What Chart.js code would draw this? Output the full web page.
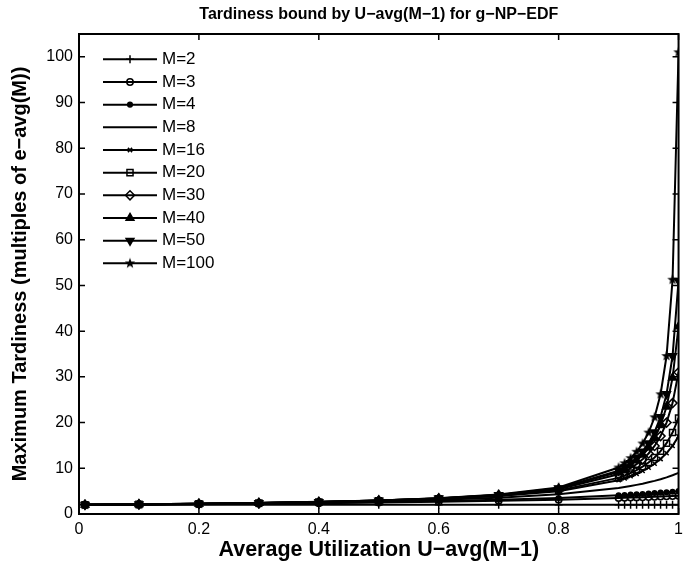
<!DOCTYPE html>
<html>
<head>
<meta charset="utf-8">
<title>Tardiness bound</title>
<script src="https://cdn.jsdelivr.net/npm/chart.js@4/dist/chart.umd.min.js"></script>
<style>
  html, body { margin: 0; padding: 0; background: #fff; }
  #wrap { width: 689px; height: 572px; }
</style>
</head>
<body>
<div id="wrap"><canvas id="chart" width="689" height="572"></canvas></div>
<script>
// utilization values on the x axis (shared by every curve)
const utilization = [0.01, 0.1, 0.2, 0.3, 0.4, 0.5, 0.6, 0.7, 0.8, 0.9,
  0.91, 0.92, 0.93, 0.94, 0.95, 0.96, 0.97, 0.98, 0.99, 1.0];

// maximum tardiness, one array per M
const m2 = [2, 2, 2, 2, 2, 2, 2, 2, 2, 2, 2, 2, 2, 2, 2, 2, 2, 2, 2, 2];
const m3 = [2.01, 2.07, 2.15, 2.25, 2.36, 2.5, 2.67, 2.88, 3.14, 3.5, 3.54, 3.59, 3.63, 3.68, 3.73, 3.78, 3.83, 3.88, 3.94, 4.0];
const m4 = [2.01, 2.08, 2.18, 2.29, 2.43, 2.6, 2.82, 3.11, 3.5, 4.08, 4.15, 4.23, 4.31, 4.39, 4.48, 4.57, 4.67, 4.77, 4.88, 5.0];
const m8 = [2.01, 2.1, 2.21, 2.36, 2.54, 2.78, 3.11, 3.58, 4.33, 5.71, 5.91, 6.13, 6.37, 6.63, 6.93, 7.25, 7.61, 8.02, 8.48, 9.0];
const m16 = [2.01, 2.1, 2.23, 2.39, 2.6, 2.88, 3.29, 3.91, 5.0, 7.4, 7.81, 8.27, 8.8, 9.42, 10.14, 11.0, 12.03, 13.31, 14.91, 17.0];
const m20 = [2.01, 2.1, 2.23, 2.4, 2.61, 2.9, 3.33, 3.99, 5.17, 7.9, 8.38, 8.94, 9.58, 10.35, 11.26, 12.36, 13.74, 15.49, 17.81, 21.0];
const m30 = [2.01, 2.11, 2.24, 2.41, 2.63, 2.94, 3.38, 4.09, 5.41, 8.69, 9.31, 10.04, 10.9, 11.95, 13.24, 14.89, 17.04, 19.99, 24.26, 31.0];
const m40 = [2.01, 2.11, 2.24, 2.41, 2.64, 2.95, 3.41, 4.15, 5.55, 9.16, 9.87, 10.71, 11.72, 12.98, 14.56, 16.63, 19.43, 23.47, 29.78, 41.0];
const m50 = [2.01, 2.11, 2.24, 2.42, 2.64, 2.96, 3.43, 4.18, 5.63, 9.47, 10.24, 11.16, 12.29, 13.69, 15.49, 17.89, 21.24, 26.25, 34.56, 51.0];
const m100 = [2.01, 2.11, 2.25, 2.42, 2.66, 2.98, 3.46, 4.26, 5.81, 10.17, 11.09, 12.21, 13.61, 15.41, 17.81, 21.16, 26.19, 34.56, 51.25, 101.0];

const seriesLabels = ['M=2', 'M=3', 'M=4', 'M=8', 'M=16', 'M=20', 'M=30', 'M=40', 'M=50', 'M=100'];
const seriesValues = [m2, m3, m4, m8, m16, m20, m30, m40, m50, m100];

const xTicks = [0, 0.2, 0.4, 0.6, 0.8, 1];
const xTickLabels = ['0', '0.2', '0.4', '0.6', '0.8', '1'];
const yTicks = [0, 10, 20, 30, 40, 50, 60, 70, 80, 90, 100];

const FONT = '"Liberation Sans", Arial, Helvetica, sans-serif';
const titleText = 'Tardiness bound by U\u2212avg(M\u22121) for g\u2212NP\u2212EDF';

// five pointed star marker (Chart.js has no pentagram)
const makePentagram = size => {
    const c = document.createElement('canvas');
    c.width = c.height = size;
    const g = c.getContext('2d');
    const R = size / 2 - 0.5, r = R * 0.42;
    g.beginPath();
    for (let i = 0; i < 10; i++) {
        const a = -Math.PI / 2 + i * Math.PI / 5;
        const rr = i % 2 ? r : R;
        g.lineTo(size / 2 + rr * Math.cos(a), size / 2 + rr * Math.sin(a));
    }
    g.closePath();
    g.fillStyle = '#000';
    g.fill();
    return c;
};

const markers = [
    { style: 'cross', radius: 4, rotation: 0, filled: false },
    { style: 'circle', radius: 3.2, rotation: 0, filled: false },
    { style: 'circle', radius: 2.3, rotation: 0, filled: true },
    { style: 'circle', radius: 0, rotation: 0, filled: false },
    { style: 'crossRot', radius: 3, rotation: 0, filled: false },
    { style: 'rect', radius: 4.3, rotation: 0, filled: false },
    { style: 'rectRot', radius: 4.5, rotation: 0, filled: false },
    { style: 'triangle', radius: 4.5, rotation: 0, filled: true },
    { style: 'triangle', radius: 4.5, rotation: 180, filled: true },
    { style: makePentagram(12), radius: 6, rotation: 0, filled: true }
];

const datasets = seriesLabels.map((label, i) => ({
    label: label,
    data: utilization.map((u, j) => ({ x: u, y: seriesValues[i][j] })),
    borderColor: '#000',
    borderWidth: 2,
    pointStyle: markers[i].style,
    pointRadius: markers[i].radius,
    pointRotation: markers[i].rotation,
    pointBorderColor: '#000',
    pointBorderWidth: 1.5,
    pointBackgroundColor: markers[i].filled ? '#000' : 'rgba(0,0,0,0)',
    fill: false,
    tension: 0
}));

// box, inward ticks, title and the legend inside the axes
const framePlugin = {
    id: 'frame',
    afterDraw(chart) {
        const { ctx, chartArea: a, scales: { x, y } } = chart;
        ctx.save();
        ctx.strokeStyle = '#000';
        ctx.lineWidth = 2;
        ctx.strokeRect(a.left, a.top, a.right - a.left, a.bottom - a.top);
        ctx.lineWidth = 1.5;
        ctx.beginPath();
        xTicks.forEach(v => {
            const px = x.getPixelForValue(v);
            ctx.moveTo(px, a.bottom); ctx.lineTo(px, a.bottom - 6);
            ctx.moveTo(px, a.top); ctx.lineTo(px, a.top + 6);
        });
        yTicks.forEach(v => {
            const py = y.getPixelForValue(v);
            ctx.moveTo(a.left, py); ctx.lineTo(a.left + 6, py);
            ctx.moveTo(a.right, py); ctx.lineTo(a.right - 6, py);
        });
        ctx.stroke();

        ctx.fillStyle = '#000';
        ctx.font = 'bold 16px ' + FONT;
        ctx.textAlign = 'center';
        ctx.textBaseline = 'middle';
        ctx.fillText(titleText, (a.left + a.right) / 2, 15);

        // legend
        ctx.font = '17px ' + FONT;
        ctx.textAlign = 'left';
        chart.data.datasets.forEach((ds, i) => {
            const ly = a.top + 25.3 + i * 22.67;
            ctx.strokeStyle = '#000';
            ctx.lineWidth = 2;
            ctx.beginPath();
            ctx.moveTo(a.left + 24, ly);
            ctx.lineTo(a.left + 78, ly);
            ctx.stroke();
            if (ds.pointRadius > 0) {
                ctx.lineWidth = 1.5;
                ctx.fillStyle = ds.pointBackgroundColor;
                Chart.helpers.drawPoint(ctx, {
                    pointStyle: ds.pointStyle,
                    radius: ds.pointRadius,
                    rotation: ds.pointRotation,
                    borderWidth: 1.5
                }, a.left + 51, ly);
            }
            ctx.fillStyle = '#000';
            ctx.fillText(ds.label, a.left + 83, ly);
        });
        ctx.restore();
    }
};

new Chart(document.getElementById('chart').getContext('2d'), {
    type: 'line',
    data: { datasets: datasets },
    options: {
        responsive: false,
        animation: false,
        events: [],
        layout: { padding: { top: 34, right: 0, bottom: 0, left: 0 } },
        plugins: {
            legend: { display: false },
            tooltip: { enabled: false },
            title: { display: false }
        },
        scales: {
            x: {
                type: 'linear',
                min: 0,
                max: 1,
                grid: { display: false, drawTicks: false },
                border: { display: false },
                afterBuildTicks: s => { s.ticks = xTicks.map(v => ({ value: v })); },
                afterFit: s => { s.height = 58; },
                ticks: {
                    color: '#000',
                    font: { family: FONT, size: 16 },
                    padding: 6,
                    maxRotation: 0,
                    autoSkip: false,
                    callback: (v, i) => xTickLabels[i]
                },
                title: {
                    display: true,
                    text: 'Average Utilization U\u2212avg(M\u22121)',
                    color: '#000',
                    font: { family: FONT, size: 21.5, weight: 'bold' },
                    padding: { top: 0, bottom: 9 }
                }
            },
            y: {
                type: 'linear',
                min: 0,
                max: 105,
                grid: { display: false, drawTicks: false },
                border: { display: false },
                afterBuildTicks: s => { s.ticks = yTicks.map(v => ({ value: v })); },
                afterFit: s => { s.width = 79; },
                ticks: {
                    color: '#000',
                    font: { family: FONT, size: 16 },
                    padding: 6,
                    autoSkip: false
                },
                title: {
                    display: true,
                    text: 'Maximum Tardiness (multiples of e\u2212avg(M))',
                    color: '#000',
                    font: { family: FONT, size: 20, weight: 'bold' },
                    padding: { top: 8, bottom: 0 }
                }
            }
        }
    },
    plugins: [framePlugin]
});
</script>
</body>
</html>
